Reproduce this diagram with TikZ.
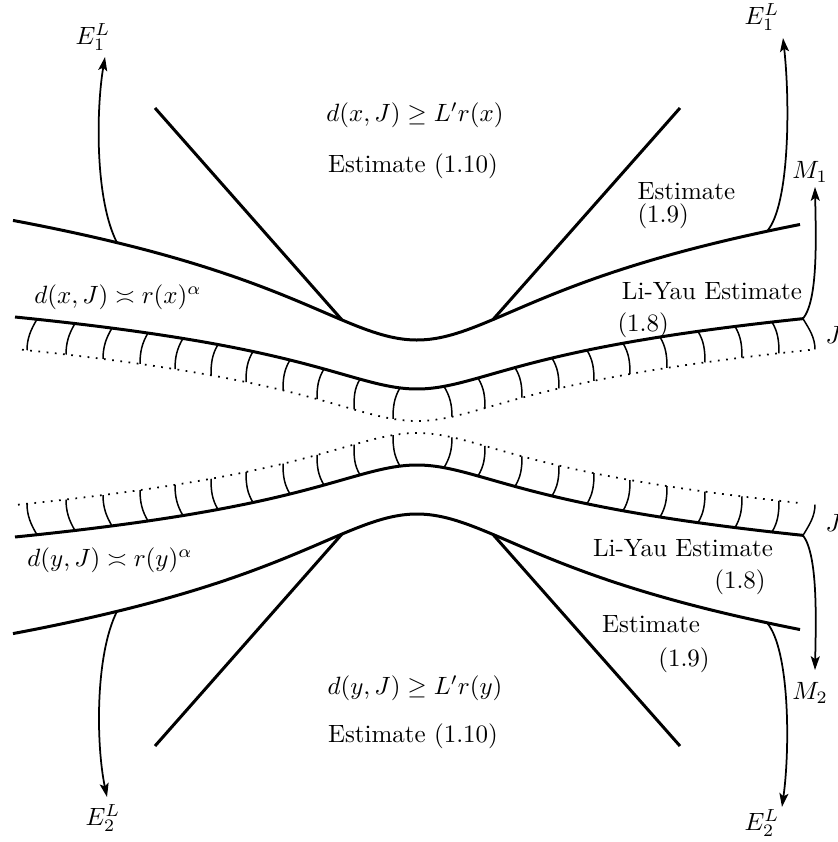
\documentclass[tikz,border=0pt]{standalone}
\usetikzlibrary{arrows.meta}
\pgfmathdeclarefunction{fo}{1}{\pgfmathparse{340-40*ln(1+((#1-417)/93)*((#1-417)/93))}}
\pgfmathdeclarefunction{fj}{1}{\pgfmathparse{389-21*ln(1+((#1-417)/73.6)*((#1-417)/73.6))}}
\pgfmathdeclarefunction{fd}{1}{\pgfmathparse{421-21*ln(1+((#1-417)/73.6)*((#1-417)/73.6))}}
\begin{document}
\begin{tikzpicture}[x=0.4pt,y=-0.4pt,
  thickline/.style={line width=1.2pt},
  hatchline/.style={line width=0.6pt},
  dotline/.style={line width=0.7pt, dash pattern=on 0.7pt off 2.6pt},
  arr/.style={line width=0.7pt, -{Stealth[length=5.5pt,width=3.6pt,inset=1.2pt]}},
  lbl/.style={inner sep=0pt}]
\useasboundingbox (0,0) rectangle (838,842);

% ---------- top half ----------
\draw[thickline] plot[domain=13:800,samples=120,smooth] (\x,{fo(\x)});
\draw[thickline] plot[domain=15:803,samples=120,smooth] (\x,{fj(\x)});
\draw[dotline] plot[domain=22:815,samples=120,smooth] (\x,{fd(\x)});
\coordinate (tla) at (155,108);
\coordinate (tlb) at (342,{fo(342)});
\coordinate (tra) at (680,108);
\coordinate (trb) at (493,{fo(493)});
\draw[thickline] (tla) -- (tlb);
\draw[thickline] (tra) -- (trb);
\foreach \a/\b in {37/27,75/66,112/103,148/140,183/175,218/211,253/246,290/283,324/317,360/354,400/393}{
  \draw[hatchline] (\a,{fj(\a)}) .. controls +(-6,10) and +(0,-12) .. (\b,{fd(\b)});
}
\foreach \a/\b in {444/452,478/485,515/522,552/559,587/594,623/630,660/667,698/705,735/742,772/779,803/815}{
  \draw[hatchline] (\a,{fj(\a)}) .. controls +(6,10) and +(0,-12) .. (\b,{fd(\b)});
}

% ---------- bottom half (mirror about y=427) ----------
\draw[thickline] plot[domain=13:800,samples=120,smooth] (\x,{854-fo(\x)});
\draw[thickline] plot[domain=15:803,samples=120,smooth] (\x,{854-fj(\x)});
\draw[dotline] plot[domain=18:800,samples=120,smooth] (\x,{854-fd(\x)});
\coordinate (bla) at (155,746);
\coordinate (blb) at (342,{854-fo(342)});
\coordinate (bra) at (680,746);
\coordinate (brb) at (493,{854-fo(493)});
\draw[thickline] (bla) -- (blb);
\draw[thickline] (bra) -- (brb);
\foreach \a/\b in {37/27,75/66,112/103,148/140,183/175,218/211,253/246,290/283,324/317,360/354,400/393}{
  \draw[hatchline] (\a,{854-fj(\a)}) .. controls +(-6,-10) and +(0,12) .. (\b,{854-fd(\b)});
}
\foreach \a/\b in {444/452,478/485,515/522,552/559,587/594,623/630,660/667,698/705,735/742,772/779,803/815}{
  \draw[hatchline] (\a,{854-fj(\a)}) .. controls +(6,-10) and +(0,12) .. (\b,{854-fd(\b)});
}

% ---------- labels ----------
\node[lbl] (E1L) at (93,37) {$E_1^L$};
\node[lbl] (E1R) at (762,17) {$E_1^L$};
\node[lbl] (M1) at (810,172) {$M_1$};
\node[lbl,anchor=west] (J1) at (825,335) {$J$};
\node[lbl,anchor=west] (J2) at (825,523) {$J$};
\node[lbl] (M2) at (810,693) {$M_2$};
\node[lbl] (E2R) at (762,823) {$E_2^L$};
\node[lbl] (E2L) at (103,818) {$E_2^L$};
\node[lbl] (dxa) at (118,297) {$d(x,J)\asymp r(x)^\alpha$};
\node[lbl] (dya) at (110,560) {$d(y,J)\asymp r(y)^\alpha$};
\node[lbl] (dxL) at (415,115) {$d(x,J)\ge L'r(x)$};
\node[lbl] (est10a) at (413,166) {Estimate (1.10)};
\node[lbl] (dyL) at (415,688) {$d(y,J)\ge L'r(y)$};
\node[lbl] (est10b) at (413,736) {Estimate (1.10)};
\node[lbl,anchor=west] (est9a) at (637,191) {Estimate};
\node[lbl,anchor=west] (eq9a) at (637,216) {(1.9)};
\node[lbl] (ly8a) at (712,291) {Li-Yau Estimate};
\node[lbl,anchor=west] (eq8a) at (617,325) {(1.8)};
\node[lbl] (ly8b) at (683,548) {Li-Yau Estimate};
\node[lbl] (eq8b) at (740,582) {(1.8)};
\node[lbl] (est9b) at (651,624) {Estimate};
\node[lbl] (eq9b) at (684,660) {(1.9)};

% ---------- arrows ----------
\coordinate (sE1L) at (117,{fo(117)});
\coordinate (tE1L) at (105,57);
\coordinate (sE1R) at (767,{fo(767)});
\coordinate (tE1R) at (783,38);
\coordinate (sM1) at (803,{fj(803)});
\coordinate (tM1) at (815,187);
\coordinate (sE2L) at (117,{854-fo(117)});
\coordinate (tE2L) at (107,797);
\coordinate (sE2R) at (767,{854-fo(767)});
\coordinate (tE2R) at (782,807);
\coordinate (sM2) at (803,{854-fj(803)});
\coordinate (tM2) at (815,670);
\draw[arr] (sE1L) .. controls (95,200) and (96,110) .. (tE1L);
\draw[arr] (sE1R) .. controls (790,205) and (790,100) .. (tE1R);
\draw[arr] (sM1) .. controls (818,300) and (816,240) .. (tM1);
\draw[arr] (sE2L) .. controls (95,655) and (96,745) .. (tE2L);
\draw[arr] (sE2R) .. controls (790,650) and (790,750) .. (tE2R);
\draw[arr] (sM2) .. controls (818,555) and (816,620) .. (tM2);
\end{tikzpicture}
\end{document}
